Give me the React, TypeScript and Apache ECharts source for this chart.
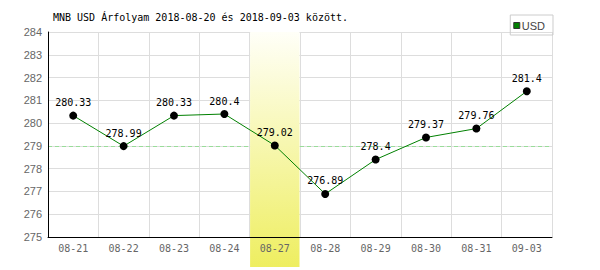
import React, { useEffect, useRef } from "react";
import * as echarts from "echarts";

const categories = ["08-21", "08-22", "08-23", "08-24", "08-27", "08-28", "08-29", "08-30", "08-31", "09-03"];
const usdValues = [280.33, 278.99, 280.33, 280.4, 279.02, 276.89, 278.4, 279.37, 279.76, 281.4];
const yTicks = { min: 275, max: 284, interval: 1 };
const referenceValue = 279;
const highlightCategory = "08-27";
const titleText = "MNB USD Árfolyam 2018-08-20 és 2018-09-03 között.";
const seriesName = "USD";

const MONO = "'DejaVu Sans Mono', monospace";
const SANS = "'Liberation Sans', Arial, sans-serif";

export default function App() {
  const ref = useRef<HTMLDivElement>(null);
  useEffect(() => {
    if (!ref.current) return;
    const chart = echarts.init(ref.current, undefined, { renderer: "svg" });
    const gridLine = { show: true, lineStyle: { color: "#dddddd", width: 1 } };
    chart.setOption({
      animation: false,
      backgroundColor: "#ffffff",
      title: {
        text: titleText,
        left: 53,
        top: 12,
        padding: 0,
        textStyle: { fontFamily: MONO, fontSize: 10, fontWeight: "normal", color: "#000" },
      },
      legend: {
        right: 47,
        top: 15,
        padding: [5, 8, 4, 3],
        borderColor: "#cccccc",
        borderWidth: 1,
        itemWidth: 6,
        itemHeight: 6,
        itemGap: 4,
        textStyle: { fontFamily: SANS, fontSize: 11, color: "#444", padding: [0, 0, 0, -3] },
        data: [
          {
            name: seriesName,
            icon: "rect",
            itemStyle: { color: "#008000", borderColor: "#333", borderWidth: 1 },
          },
        ],
      },
      grid: { left: 48, right: 48, top: 32, bottom: 33, containLabel: false },
      xAxis: [
        {
          type: "category",
          data: categories,
          boundaryGap: true,
          z: 0,
          axisLine: { show: false },
          axisTick: { show: false },
          axisLabel: { show: false },
          splitLine: gridLine,
        },
        {
          type: "category",
          data: categories,
          boundaryGap: true,
          position: "bottom",
          z: 5,
          axisLine: { lineStyle: { color: "#000", width: 1 } },
          axisTick: { show: false },
          axisLabel: { fontFamily: MONO, fontSize: 10, color: "#666", margin: 6 },
          splitLine: { show: false },
        },
      ],
      yAxis: [
        {
          type: "value",
          min: yTicks.min,
          max: yTicks.max,
          interval: yTicks.interval,
          z: 0,
          axisLine: { show: false },
          axisTick: { show: false },
          axisLabel: { show: false },
          splitLine: gridLine,
        },
        {
          type: "value",
          min: yTicks.min,
          max: yTicks.max,
          interval: yTicks.interval,
          position: "left",
          z: 5,
          axisLine: { show: true, lineStyle: { color: "#000", width: 1 } },
          axisTick: { show: false },
          axisLabel: { fontFamily: SANS, fontSize: 11, color: "#666", margin: 6 },
          splitLine: { show: false },
        },
      ],
      series: [
        {
          name: "ref",
          type: "line",
          data: [],
          z: 0,
          silent: true,
          markLine: {
            z: 0,
            silent: true,
            symbol: "none",
            label: { show: false },
            lineStyle: { color: "#99dd99", type: [4, 3], width: 1 },
            data: [{ yAxis: referenceValue }],
          },
        },
        {
          name: seriesName,
          type: "line",
          data: usdValues,
          z: 3,
          color: "#008000",
          lineStyle: { color: "#008000", width: 1 },
          symbol: "circle",
          symbolSize: 8,
          itemStyle: { color: "#000" },
          label: {
            show: true,
            position: "top",
            distance: 4,
            fontFamily: MONO,
            fontSize: 10,
            color: "#000",
          },
        },
      ],
    });
    const idx = categories.indexOf(highlightCategory);
    const c0 = chart.convertToPixel({ xAxisIndex: 0 }, categories[0]) as number;
    const c1 = chart.convertToPixel({ xAxisIndex: 0 }, categories[1]) as number;
    const cx = chart.convertToPixel({ xAxisIndex: 0 }, categories[idx]) as number;
    const top = chart.convertToPixel({ yAxisIndex: 0 }, yTicks.max) as number;
    const bw = c1 - c0;
    const h = chart.getHeight() - 3 - top;
    chart.setOption({
      graphic: [
        {
          type: "rect",
          z: 1,
          silent: true,
          shape: { x: cx - bw / 2 + 0.5, y: top, width: bw - 1, height: h },
          style: {
            fill: new echarts.graphic.LinearGradient(0, 0, 0, 1, [
              { offset: 0, color: "#fffff8" },
              { offset: 1, color: "#eeee60" },
            ]),
          },
        },
      ],
    });
    return () => chart.dispose();
  }, []);
  return <div ref={ref} style={{ width: 600, height: 270, position: "absolute", left: 0, top: 0 }} />;
}
